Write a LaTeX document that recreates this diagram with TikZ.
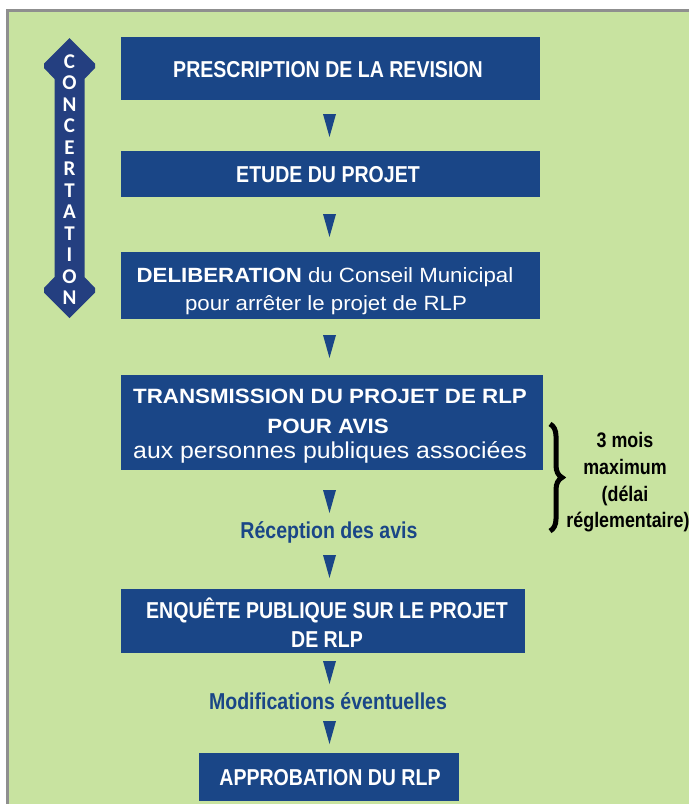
\documentclass[tikz,border=0pt]{standalone}
\usepackage{fontspec}
\setmainfont{Liberation Sans}
\newfontfamily\condF{Liberation Sans}[FakeStretch=0.85]
\newfontfamily\wideF{Liberation Sans}[FakeStretch=1.08]
\newfontfamily\calF{Carlito}
\usetikzlibrary{decorations.pathreplacing}
\definecolor{bgGreen}{HTML}{C8E3A0}
\definecolor{boxBlue}{HTML}{1A4687}
\definecolor{arrowNavy}{HTML}{243F80}
\definecolor{frameGrey}{HTML}{8F8F8F}
\newcommand\downtri[1]{\fill[boxBlue] (323,#1) -- (336,#1) -- (329.5,{#1+23}) -- cycle;}
\begin{document}
\begin{tikzpicture}[x=1pt,y=-1pt,
  box/.style={fill=boxBlue, inner sep=0pt, draw=none},
  title/.style={anchor=base, text=white, inner sep=0pt, font=\condF\bfseries\fontsize{23}{27}\selectfont},
  wtitle/.style={anchor=base, text=white, inner sep=0pt, font=\wideF\fontsize{20.6}{24}\selectfont},
  note/.style={anchor=base, text=boxBlue, inner sep=0pt, font=\condF\bfseries\fontsize{23}{27}\selectfont},
  side/.style={anchor=base, text=black, inner sep=0pt, font=\condF\bfseries\fontsize{21}{24}\selectfont},
  letter/.style={anchor=base, text=white, inner sep=0pt, font=\calF\bfseries\fontsize{21}{23}\selectfont}]
\useasboundingbox (0,0) rectangle (689,804);
\fill[white] (0,0) rectangle (689,804);
\fill[frameGrey] (6,9) rectangle (689,804);
\fill[bgGreen] (9,12) rectangle (689,804);

% concertation double arrow
\fill[arrowNavy] (69.5,38) -- (95,63.5) -- (95,68) -- (84.5,79) -- (84.5,277) -- (95,288) -- (95,292.5)
  -- (69.5,318) -- (44,292.5) -- (44,288) -- (54.5,277) -- (54.5,79) -- (44,68) -- (44,63.5) -- cycle;
\foreach \L [count=\i from 0] in {C,O,N,C,E,R,T,A,T,I,O,N}
  \node[letter] (c\i) at (69.5,{68+21.5*\i}) {\L};

% boxes
\node[box, minimum width=419pt, minimum height=63pt] (b1) at (330.5,68.5) {};
\node[box, minimum width=419pt, minimum height=46pt] (b2) at (330.5,174) {};
\node[box, minimum width=419pt, minimum height=67pt] (b3) at (330.5,285.5) {};
\node[box, minimum width=422pt, minimum height=95pt] (b4) at (332,422.5) {};
\node[box, minimum width=404pt, minimum height=64pt] (b5) at (323,621) {};
\node[box, minimum width=260pt, minimum height=48pt] (b6) at (329,777) {};

% texts
\node[title] (t1) at (328,77) {PRESCRIPTION DE LA REVISION};
\node[title] (t2) at (328,182) {ETUDE DU PROJET};
\node[wtitle] (t3a) at (325,282) {\textbf{DELIBERATION} du Conseil Municipal};
\node[wtitle] (t3b) at (326,310) {pour arrêter le projet de RLP};
\node[wtitle, font=\wideF\bfseries\fontsize{20.7}{24}\selectfont] (t4a) at (330,403) {TRANSMISSION DU PROJET DE RLP};
\node[wtitle, font=\wideF\bfseries\fontsize{20.7}{24}\selectfont] (t4b) at (328,433) {POUR AVIS};
\node[wtitle, font=\wideF\fontsize{23}{27}\selectfont] (t4c) at (330,458) {aux personnes publiques associées};
\node[title] (t5a) at (327,618) {ENQUÊTE PUBLIQUE SUR LE PROJET};
\node[title] (t5b) at (327,647) {DE RLP};
\node[title] (t6) at (330,785) {APPROBATION DU RLP};
\node[note] (n1) at (329,538) {Réception des avis};
\node[note] (n2) at (328,709) {Modifications éventuelles};

% triangles
\downtri{114}
\downtri{214}
\downtri{335}
\downtri{490}
\downtri{555}
\downtri{661}
\downtri{721}

% brace and side note
\coordinate (br1) at (550,424);
\coordinate (br2) at (550,531);
\draw[decorate, decoration={brace, amplitude=12pt, aspect=0.5}, line width=5pt] (br1) -- (br2);
\node[side] (s1) at (625,447) {3 mois};
\node[side] (s2) at (625,474) {maximum};
\node[side] (s3) at (625,501) {(délai};
\node[side] (s4) at (628,527) {réglementaire)};
\end{tikzpicture}
\end{document}
